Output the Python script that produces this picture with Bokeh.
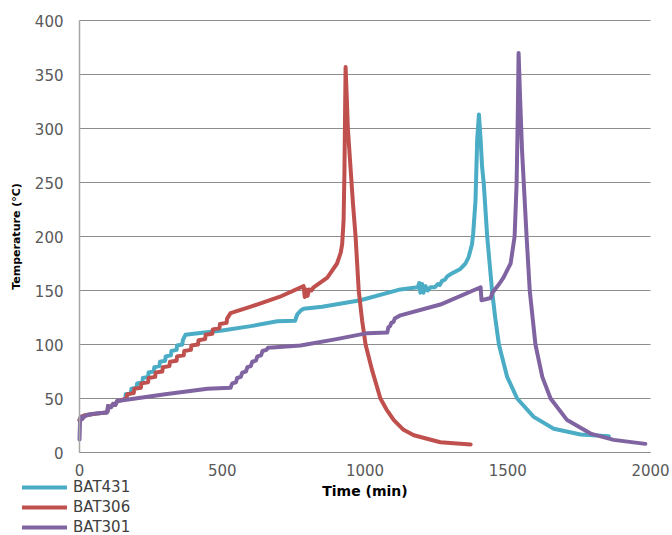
from bokeh.plotting import figure
from bokeh.models import FixedTicker, Legend, LegendItem, Range1d
from bokeh.embed import file_html
from bokeh.resources import INLINE

# ---- data ----
x_ticks = [0, 500, 1000, 1500, 2000]
y_ticks = [0, 50, 100, 150, 200, 250, 300, 350, 400]
series_names = ["BAT431", "BAT306", "BAT301"]

bat431_t = [0, 5, 15, 30, 60, 95, 98, 100, 110, 118, 125, 133, 140,
            160, 162, 180, 182, 200, 202, 220, 222, 240, 242, 260, 262, 280, 282, 300, 302,
            320, 322, 340, 342, 360, 362, 371,
            400, 500, 600, 693, 755, 763, 770, 775, 785, 850, 984, 1124, 1185, 1190, 1194,
            1200, 1205, 1212, 1220, 1229, 1245, 1255, 1262, 1270, 1280, 1288, 1299, 1334,
            1352, 1363, 1375, 1379, 1387, 1393, 1399, 1405, 1410, 1416, 1428, 1445, 1456,
            1469, 1498, 1533, 1591, 1661, 1755, 1854]
bat431_T = [30, 33, 34, 35, 36, 37, 38, 43, 42, 45, 44, 48, 48,
            50, 54, 55, 59, 60, 64, 65, 69, 70, 74, 75, 79, 80, 84, 85, 89,
            90, 94, 95, 99, 100, 104, 109,
            110, 113, 117, 121.5, 122, 128, 130, 131.5, 133, 135, 141, 151, 153, 157, 148,
            156, 148, 154, 150, 153, 153, 156, 155, 159, 160, 163, 165, 170,
            175, 181, 193, 203, 233, 290, 313, 290, 265, 249, 200, 150, 125,
            100, 70, 50, 33, 22, 16.7, 15]

bat306_t = [0, 5, 15, 30, 60, 95, 98, 100, 110, 118, 125, 133, 140,
            165, 167, 190, 192, 215, 217, 240, 242, 265, 267, 290, 292, 315, 317, 340, 342,
            365, 367, 390, 392, 415, 417, 440, 442, 465, 467, 490, 492, 515, 517, 529,
            600, 700, 785, 789, 794, 799, 804, 812, 820, 868, 902, 915, 920, 925, 928, 930,
            932, 936, 940, 949, 958, 967, 978, 990, 1002, 1025, 1054, 1075, 1101, 1135, 1171,
            1264, 1370]
bat306_T = [30, 33, 34, 35, 36, 37, 38, 43, 42, 45, 44, 48, 48,
            50, 54, 55, 59, 60, 64, 65, 69, 70, 74, 75, 79, 80, 84, 85, 89,
            90, 94, 95, 99, 100, 104, 105, 109, 110, 114, 115, 119, 120, 124, 129,
            135, 144, 154, 144, 151, 145, 151, 150, 153, 162, 175, 185, 193, 215, 260, 310,
            357, 330, 300, 265, 230, 200, 150, 122, 100, 76, 50, 40, 30, 21, 16,
            9.5, 7.5]

bat301_t = [0, 2, 5, 10, 20, 50, 95, 98, 100, 110, 118, 125, 133, 140, 300, 448, 529,
            535, 548, 552, 565, 570, 583, 588, 600, 605, 618, 623, 636, 641, 655, 660, 687,
            774, 900, 1008, 1078, 1082, 1088, 1092, 1100, 1104, 1124, 1264, 1405, 1408, 1440,
            1446, 1470, 1485, 1510, 1524, 1531, 1535, 1538, 1543, 1550, 1566, 1577, 1597,
            1621, 1650, 1708, 1790, 1871, 1982]
bat301_T = [12, 30, 33, 31, 34, 36, 37, 38, 43, 42, 45, 44, 48, 48, 54, 59, 60,
            64, 65, 69, 70, 74, 75, 79, 80, 84, 85, 89, 90, 94, 95, 97, 97.5,
            99, 105, 110.5, 111, 116, 117, 120, 121, 124, 127, 137, 153, 141, 143,
            148, 156, 162, 175, 200, 249, 310, 370, 330, 280, 200, 150, 100,
            70, 50, 30, 17.5, 11.7, 8]

x_lim = (0, 2000)
y_lim = (0, 400)
colors = ["#4BACC6", "#C0504D", "#8064A2"]
FONT = "DejaVu Sans"

# ---- layout (pixels) : plot area inside the full canvas ----
W, H = 672, 535
PL, PR, PT, PB = 79, 650, 20, 452
sx = (x_lim[1] - x_lim[0]) / (PR - PL)
sy = (y_lim[1] - y_lim[0]) / (PB - PT)
x_range = Range1d(x_lim[0] - PL * sx, x_lim[1] + (W - PR) * sx)
y_range = Range1d(y_lim[0] - (H - PB) * sy, y_lim[1] + PT * sy)

p = figure(width=W, height=H, output_backend="svg", toolbar_location=None,
           x_range=x_range, y_range=y_range,
           min_border=0, min_border_left=0, min_border_right=0,
           min_border_top=0, min_border_bottom=0)
p.outline_line_color = None
p.background_fill_color = "white"
p.border_fill_color = "white"

renderers = []
for t, T, c in zip([bat431_t, bat306_t, bat301_t], [bat431_T, bat306_T, bat301_T], colors):
    r = p.line(t, T, line_color=c, line_width=4, line_join="round", line_cap="round")
    renderers.append(r)

# axes drawn at the data origin
p.xaxis.fixed_location = y_lim[0]
p.yaxis.fixed_location = x_lim[0]
p.xaxis.bounds = x_lim
p.yaxis.bounds = y_lim
p.xaxis.ticker = FixedTicker(ticks=x_ticks)
p.yaxis.ticker = FixedTicker(ticks=y_ticks)
for ax in (p.xaxis, p.yaxis):
    ax.major_tick_line_color = None
    ax.minor_tick_line_color = None
    ax.major_tick_in = 0
    ax.major_tick_out = 0
    ax.major_label_text_font = FONT
    ax.major_label_text_font_size = "15px"
    ax.major_label_text_color = "#595959"
    ax.axis_label_text_font = FONT
    ax.axis_label_text_font_style = "bold"
    ax.axis_label_text_color = "#000000"
p.xaxis.axis_line_color = "#8c8c8c"
p.yaxis.axis_line_color = "#a6a6a6"
p.yaxis.axis_line_width = 1.5
p.xaxis.axis_label = "Time (min)"
p.yaxis.axis_label = "Temperature (°C)"
p.xaxis.axis_label_text_font_size = "14px"
p.yaxis.axis_label_text_font_size = "11px"
p.xaxis.major_label_standoff = 11
p.yaxis.major_label_standoff = 16
p.xaxis.axis_label_standoff = 4
p.yaxis.axis_label_standoff = 9

p.xgrid.grid_line_color = None
p.ygrid.grid_line_color = "#8c8c8c"
p.ygrid.grid_line_width = 1
p.ygrid.ticker = FixedTicker(ticks=y_ticks)
p.ygrid.bounds = y_lim
if "cross_bounds" in p.ygrid[0].properties():
    p.ygrid.cross_bounds = x_lim

legend = Legend(items=[LegendItem(label=n, renderers=[r]) for n, r in zip(series_names, renderers)],
                location=(22, -2), orientation="vertical")
legend.background_fill_alpha = 0
legend.border_line_color = None
legend.padding = 0
legend.margin = 0
legend.spacing = 0
legend.glyph_width = 45
legend.glyph_height = 20
legend.label_height = 20
legend.label_standoff = 6
legend.label_text_font = FONT
legend.label_text_font_size = "15px"
legend.label_text_color = "#404040"
p.add_layout(legend, "center")

open("out.html", "w").write(file_html(p, INLINE))
